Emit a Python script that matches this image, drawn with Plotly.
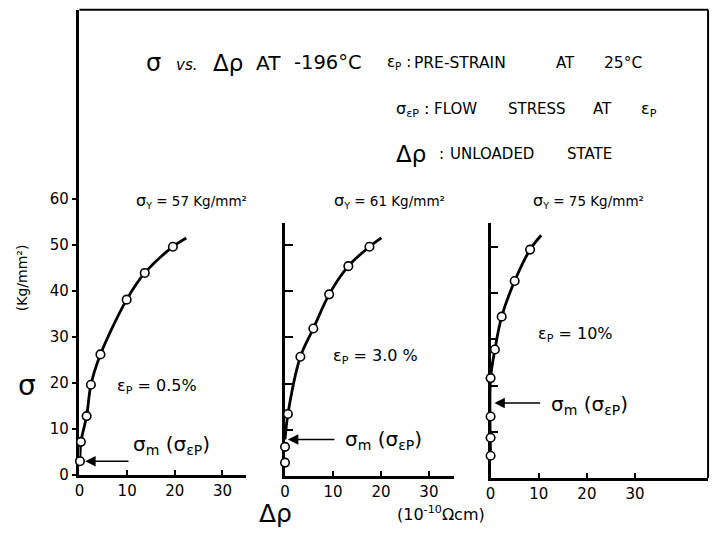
import plotly.graph_objects as go

# ---------------- data ----------------
p1_drho = [0.1, 0.3, 1.5, 2.4, 4.4, 9.9, 13.7, 19.6]
p1_sigma = [3.0, 7.2, 12.8, 19.6, 26.2, 38.1, 43.9, 49.6]
p1_curve_x = [0.1, 0.3, 1.5, 2.4, 4.4, 9.9, 13.7, 19.6, 22.4]
p1_curve_y = [3.0, 7.2, 12.8, 19.6, 26.2, 38.1, 43.9, 49.6, 51.5]

p2_drho = [0.0, 0.0, 0.6, 3.2, 5.9, 9.2, 13.2, 17.6]
p2_sigma = [2.9, 6.3, 13.4, 25.8, 31.9, 39.3, 45.4, 49.6]
p2_curve_x = [0.0, 0.6, 3.2, 5.9, 9.2, 13.2, 17.6, 20.1]
p2_curve_y = [7.9, 13.4, 25.8, 31.9, 39.3, 45.4, 49.6, 51.5]

p3_drho = [0.0, 0.0, 0.0, 0.0, 0.9, 2.3, 5.0, 8.2]
p3_sigma = [4.8, 8.7, 13.3, 21.6, 27.8, 34.9, 42.6, 49.4]
p3_curve_x = [0.0, 0.0, 0.9, 2.3, 5.0, 8.2, 10.5]
p3_curve_y = [4.8, 21.6, 27.8, 34.9, 42.6, 49.4, 52.5]

sigma_m = [3.0, 7.9, 16.2]          # arrow levels
x_ticks = [0, 10, 20, 30]
y_ticks = [0, 10, 20, 30, 40, 50, 60]
y_ticks_23 = [0, 10, 20, 30, 40, 50]
sigma_y_labels = ["57", "61", "75"]
eps_labels = ["0.5%", "3.0 %", "10%"]

W, H = 716, 543
def fx(px):
    return px / W
def fy(py):
    return 1 - py / H

FONT = "DejaVu Sans"
fig = go.Figure()

panels = [
    (p1_drho, p1_sigma, p1_curve_x, p1_curve_y, "x", "y"),
    (p2_drho, p2_sigma, p2_curve_x, p2_curve_y, "x2", "y2"),
    (p3_drho, p3_sigma, p3_curve_x, p3_curve_y, "x3", "y3"),
]
for dx, dy, cx, cy, xa, ya in panels:
    fig.add_trace(go.Scatter(x=cx, y=cy, mode="lines", xaxis=xa, yaxis=ya,
                             line=dict(color="black", width=2.8, shape="spline", smoothing=0.9),
                             hoverinfo="skip", showlegend=False, cliponaxis=False))
    fig.add_trace(go.Scatter(x=dx, y=dy, mode="markers", xaxis=xa, yaxis=ya,
                             marker=dict(symbol="circle", size=8.5, color="white",
                                         line=dict(color="black", width=1.6)),
                             showlegend=False, cliponaxis=False))

axis_common = dict(showgrid=False, zeroline=False, showline=True, linecolor="black",
                   linewidth=2.5, tickcolor="black", tickwidth=1.6, layer="below traces",
                   tickfont=dict(family=FONT, size=15, color="black"))

fig.update_layout(
    width=W, height=H, margin=dict(l=0, r=0, t=0, b=0),
    paper_bgcolor="white", plot_bgcolor="white", showlegend=False,
    xaxis=dict(domain=[fx(75), fx(243)], range=[0, 35], anchor="y", tickvals=x_ticks,
               ticks="inside", ticklen=5, **axis_common),
    yaxis=dict(domain=[fy(483), fy(10)], range=[0, (483 - 10) / 4.68], anchor="x",
               tickvals=y_ticks, ticks="outside", ticklen=5, **axis_common),
    xaxis2=dict(domain=[fx(282), fx(452)], range=[0, 170 / 4.83], anchor="y2", tickvals=x_ticks,
                ticks="inside", ticklen=5, **axis_common),
    yaxis2=dict(domain=[fy(484), fy(227)], range=[0, 257 / 4.7], anchor="x2",
                tickvals=y_ticks_23, ticks="inside", ticklen=8, showticklabels=False, **axis_common),
    xaxis3=dict(domain=[fx(489), fx(708)], range=[0, 219 / 4.85], anchor="y3", tickvals=x_ticks,
                ticks="inside", ticklen=5, **axis_common),
    yaxis3=dict(domain=[fy(486), fy(227)], range=[0, 259 / 4.7], anchor="x3",
                tickvals=y_ticks_23, ticks="inside", ticklen=8, showticklabels=False, **axis_common),
)

# frame (top and right)
fig.add_shape(type="line", xref="paper", yref="paper", x0=fx(75), y0=fy(10), x1=fx(708), y1=fy(10),
              line=dict(color="black", width=2))
fig.add_shape(type="line", xref="paper", yref="paper", x0=fx(708), y0=fy(10), x1=fx(708), y1=fy(486),
              line=dict(color="black", width=2))

def txt(x, y, s, size=14, xanchor="left", angle=0):
    fig.add_annotation(x=fx(x), y=fy(y), xref="paper", yref="paper", text=s, showarrow=False,
                       xanchor=xanchor, yanchor="middle", textangle=angle,
                       font=dict(family=FONT, size=size, color="black"))

# header, line 1
txt(140, 64, "σ", size=24)
txt(170, 66, "<i>vs.</i>", size=15)
txt(207, 64, "Δρ", size=23)
txt(251, 64, "AT", size=20)
txt(289, 64, "-196°C", size=19.5)
txt(383, 64, "ε<sub>P</sub> :", size=15)
txt(410, 64, "PRE-STRAIN", size=15.5)
txt(553, 64, "AT", size=15)
txt(601, 64, "25°C", size=15.5)
# header, line 2
txt(392, 111, "σ<sub>εP</sub> :", size=16)
txt(430, 111, "FLOW", size=15)
txt(505, 111, "STRESS", size=15)
txt(590, 111, "AT", size=15)
txt(638, 111, "ε<sub>P</sub>", size=16)
# header, line 3
txt(392, 157, "Δρ", size=23)
txt(435, 157, ":", size=15)
txt(446, 157, "UNLOADED", size=15)
txt(564, 157, "STATE", size=15)

for left, lab in zip([130, 329, 530], sigma_y_labels):
    txt(left, 204, f"<span style='font-size:16px'>σ</span><sub>Y</sub> = {lab} Kg/mm²", size=13.5)

for (left, y), lab in zip([(111, 393), (328, 363), (535, 340)], eps_labels):
    txt(left, y, f"ε<sub>P</sub> = {lab}", size=16)

for left, y in [(127, 452), (340, 447), (548, 412)]:
    txt(left, y, "σ<sub>m</sub> (σ<sub>εP</sub>)", size=20)

# arrows pointing at sigma_m on each axis
for (xa, ya), lvl, tip in zip([("x", "y"), ("x2", "y2"), ("x3", "y3")], sigma_m, [1.2, 0.6, 0.8]):
    fig.add_annotation(x=tip, y=lvl, xref=xa, yref=ya, ax=10.6, ay=lvl, axref=xa, ayref=ya,
                       text="", showarrow=True, arrowhead=2, arrowsize=1.3, arrowwidth=1.6,
                       arrowcolor="black")

# axis titles
txt(22, 392, "σ", size=28, xanchor="center")
txt(17, 282, "(Kg/mm²)", size=14, xanchor="center", angle=-90)
txt(272, 522, "Δρ", size=25, xanchor="center")
txt(393, 522, "(10<sup>-10</sup>Ωcm)", size=16)

fig.write_html("out.html")
